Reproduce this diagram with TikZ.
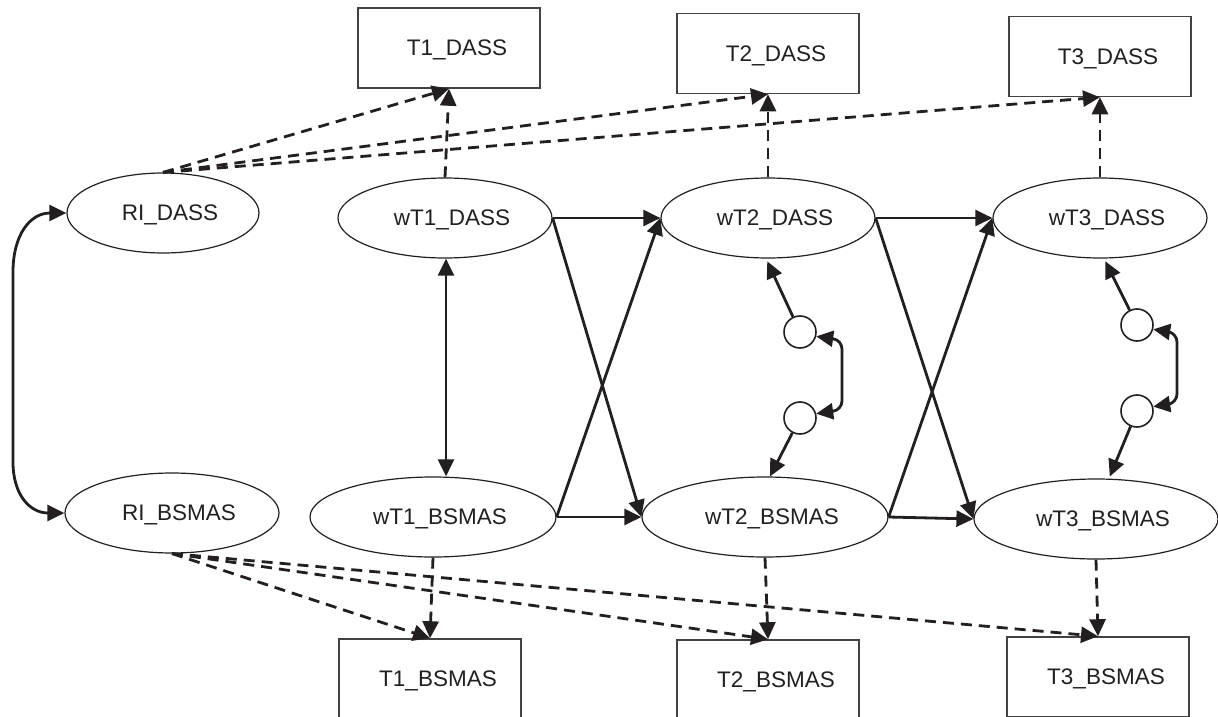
\documentclass[tikz,border=0pt]{standalone}
\usepackage{fontspec}
\setmainfont{Liberation Sans}
\usetikzlibrary{shapes.geometric,arrows.meta}
\definecolor{ink}{HTML}{231F20}
\begin{document}
\begin{tikzpicture}[x=1pt,y=-1pt,
  every node/.style={font=\fontsize{22.5}{26}\selectfont, text=ink},
  ell/.style={draw=ink, ellipse, line width=1.2pt, inner sep=0pt, minimum height=80pt, text depth=0pt, execute at begin node=\hspace*{14pt}},
  box/.style={draw=ink!85, rectangle, line width=1.5pt, inner sep=0pt, minimum width=182pt, minimum height=80pt, text depth=0pt, execute at begin node=\hspace*{16pt}},
  sm/.style={draw=ink, circle, line width=1.6pt, minimum size=32pt, inner sep=0pt},
  arr/.style={-{Triangle[length=17pt,width=16pt]}},
  arrs/.style={{Triangle[length=17pt,width=16pt]}-{Triangle[length=17pt,width=16pt]}},
  link/.style={draw=ink, line width=2.8pt},
  dlink/.style={draw=ink, line width=2.8pt, dash pattern=on 11pt off 7pt}
]
\useasboundingbox (0,0) rectangle (1218,717);
% boxes
\node[box] (t1d) at (449,48) {T1\_DASS};
\node[box] (t2d) at (768,53.5) {T2\_DASS};
\node[box] (t3d) at (1100,56.5) {T3\_DASS};
\node[box] (t1b) at (430,679) {T1\_BSMAS};
\node[box] (t2b) at (768,680) {T2\_BSMAS};
\node[box] (t3b) at (1098,677) {T3\_BSMAS};
% ellipses
\node[ell, minimum width=192pt] (rid) at (163,213) {RI\_DASS};
\node[ell, minimum width=214pt] (w1d) at (445,218) {wT1\_DASS};
\node[ell, minimum width=214pt] (w2d) at (768,218) {wT2\_DASS};
\node[ell, minimum width=214pt] (w3d) at (1100,218) {wT3\_DASS};
\node[ell, minimum width=214pt] (rib) at (172,513) {RI\_BSMAS};
\node[ell, minimum width=246pt] (w1b) at (433,517) {wT1\_BSMAS};
\node[ell, minimum width=246pt] (w2b) at (765,517) {wT2\_BSMAS};
\node[ell, minimum width=244pt] (w3b) at (1096,519) {wT3\_BSMAS};
% small circles
\node[sm] (c1) at (800,332) {};
\node[sm] (c2) at (800,418) {};
\node[sm] (c3) at (1137,325) {};
\node[sm] (c4) at (1137,411) {};
% dashed top
\draw[dlink,arr] (rid.north) -- (t1d.south);
\draw[dlink,arr] (rid.north) -- (t2d.south);
\draw[dlink,arr] (rid.north) -- (t3d.south);
\draw[dlink,arr] (w1d.north) -- (t1d.south);
\draw[dlink,arr] (w2d.north) -- (t2d.south);
\draw[dlink,arr] (w3d.north) -- (t3d.south);
% dashed bottom
\draw[dlink,arr] (rib.south) -- (t1b.north);
\draw[dlink,arr] (rib.south) -- (t2b.north);
\draw[dlink,arr] (rib.south) -- (t3b.north);
\draw[dlink,arr] (w1b.south) -- (t1b.north);
\draw[dlink,arr] (w2b.south) -- (t2b.north);
\draw[dlink,arr] (w3b.south) -- (t3b.north);
% solid
\draw[link,arr] (w1d.east) -- (w2d.west);
\draw[link,arr] (w1d.east) -- (w2b.west);
\draw[link,arr] (w1b.east) -- (w2d.west);
\draw[link,arr] (w1b.east) -- (w2b.west);
\draw[link,arr] (w2d.east) -- (w3d.west);
\draw[link,arr] (w2d.east) -- (w3b.west);
\draw[link,arr] (w2b.east) -- (w3d.west);
\draw[link,arr] (w2b.east) -- (w3b.west);
\draw[link,arrs] ([xshift=1pt]w1d.south) -- ([xshift=1pt]w1d.south |- w1b.north);
\draw[link,arrs] (rid.west) .. controls (30,213) and (13,235) .. (13,272) -- (13,462) .. controls (13,495) and (30,513) .. (rib.west);
% small circle links
\draw[link,arr,shorten >=3pt] (c1) -- ([xshift=-2pt]w2d.south);
\draw[link,arr] (c2) -- ([xshift=5pt]w2b.north);
\draw[link,arrs,rounded corners=9pt] (c1.-15) -- (842,340) -- (842,410) -- (c2.15);
\draw[link,arr,shorten >=3pt] (c3) -- ([xshift=4pt]w3d.south);
\draw[link,arr,shorten >=2pt] (c4) -- ([xshift=13pt]w3b.north);
\draw[link,arrs,rounded corners=9pt] (c3.-15) -- (1177,333) -- (1177,403) -- (c4.15);
\end{tikzpicture}
\end{document}
